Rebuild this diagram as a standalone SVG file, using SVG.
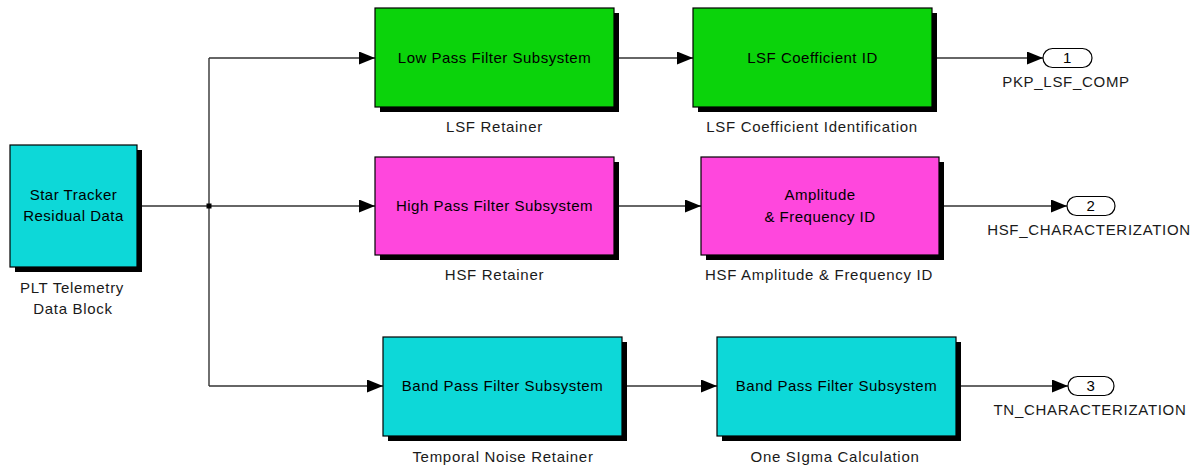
<svg xmlns="http://www.w3.org/2000/svg" width="1204" height="468" viewBox="0 0 1204 468">
<defs>
<style>
.shadow{fill:#000}
.box{stroke:#000;stroke-width:1.2}
.green{fill:#0bd30b}
.cyan{fill:#0dd8d8}
.pink{fill:#ff47dd}
.t{font-family:"Liberation Sans",Arial,sans-serif;font-size:15px;fill:#000;text-anchor:middle;letter-spacing:0.5px}
.lbl{font-family:"Liberation Sans",Arial,sans-serif;font-size:15px;fill:#1a1a1a;text-anchor:middle;letter-spacing:0.7px}
.wire{fill:none;stroke:#333;stroke-width:1.4}
.arr{marker-end:url(#ah)}
.port{fill:#fff;stroke:#000;stroke-width:1.2}
</style>
<marker id="ah" markerUnits="userSpaceOnUse" markerWidth="17" markerHeight="14" refX="16" refY="6.5" orient="auto">
<path d="M0,0 L16,6.5 L0,13 z" fill="#000"/>
</marker>
</defs>

<g id="connectors">
<path class="wire" d="M137 206 H209"/>
<path class="wire" d="M209 58 V386"/>
<path class="wire arr" d="M209 58 H375"/>
<path class="wire arr" d="M209 206 H375"/>
<path class="wire arr" d="M209 386 H383"/>
<path class="wire arr" d="M614 58 H693"/>
<path class="wire arr" d="M932 58 H1043"/>
<path class="wire arr" d="M614 206 H701"/>
<path class="wire arr" d="M939 206 H1067"/>
<path class="wire arr" d="M622 386 H717"/>
<path class="wire arr" d="M956 386 H1068"/>
<rect x="206.5" y="203.5" width="5" height="5" fill="#000"/>
</g>

<g id="star_tracker">
<rect class="shadow" x="15" y="150" width="127" height="122"/>
<rect class="box cyan" x="10" y="145" width="127" height="122"/>
<text class="t" x="73.5" y="200">Star Tracker</text>
<text class="t" x="73.5" y="221">Residual Data</text>
<text class="lbl" x="72" y="293">PLT Telemetry</text>
<text class="lbl" x="73" y="314">Data Block</text>
</g>

<g id="low_pass">
<rect class="shadow" x="380" y="13" width="239" height="99"/>
<rect class="box green" x="375" y="8" width="239" height="99"/>
<text class="t" x="494.5" y="63">Low Pass Filter Subsystem</text>
<text class="lbl" x="494.5" y="132">LSF Retainer</text>
</g>

<g id="lsf_coeff">
<rect class="shadow" x="698" y="13" width="239" height="99"/>
<rect class="box green" x="693" y="8" width="239" height="99"/>
<text class="t" x="812.5" y="63">LSF Coefficient ID</text>
<text class="lbl" x="812" y="132">LSF Coefficient Identification</text>
</g>

<g id="out1">
<rect class="port" x="1043" y="48.5" width="49" height="19" rx="9.5"/>
<text class="t" x="1067.5" y="63">1</text>
<text class="lbl" x="1066" y="87">PKP_LSF_COMP</text>
</g>

<g id="high_pass">
<rect class="shadow" x="380" y="162" width="239" height="98"/>
<rect class="box pink" x="375" y="157" width="239" height="98"/>
<text class="t" x="494.5" y="211">High Pass Filter Subsystem</text>
<text class="lbl" x="494.5" y="280">HSF Retainer</text>
</g>

<g id="amp_freq">
<rect class="shadow" x="706" y="162" width="238" height="98"/>
<rect class="box pink" x="701" y="157" width="238" height="98"/>
<text class="t" x="820" y="200">Amplitude</text>
<text class="t" x="820" y="222">&amp; Frequency ID</text>
<text class="lbl" x="819" y="280">HSF Amplitude &amp; Frequency ID</text>
</g>

<g id="out2">
<rect class="port" x="1067" y="196.5" width="48" height="19" rx="9.5"/>
<text class="t" x="1091" y="211">2</text>
<text class="lbl" x="1089" y="235">HSF_CHARACTERIZATION</text>
</g>

<g id="band_pass1">
<rect class="shadow" x="388" y="342" width="239" height="99"/>
<rect class="box cyan" x="383" y="337" width="239" height="99"/>
<text class="t" x="502.5" y="391">Band Pass Filter Subsystem</text>
<text class="lbl" x="503" y="462">Temporal Noise Retainer</text>
</g>

<g id="band_pass2">
<rect class="shadow" x="722" y="342" width="239" height="99"/>
<rect class="box cyan" x="717" y="337" width="239" height="99"/>
<text class="t" x="836.5" y="391">Band Pass Filter Subsystem</text>
<text class="lbl" x="835" y="462">One SIgma Calculation</text>
</g>

<g id="out3">
<rect class="port" x="1068" y="376.5" width="46" height="19" rx="9.5"/>
<text class="t" x="1091" y="391">3</text>
<text class="lbl" x="1090" y="415">TN_CHARACTERIZATION</text>
</g>
</svg>
